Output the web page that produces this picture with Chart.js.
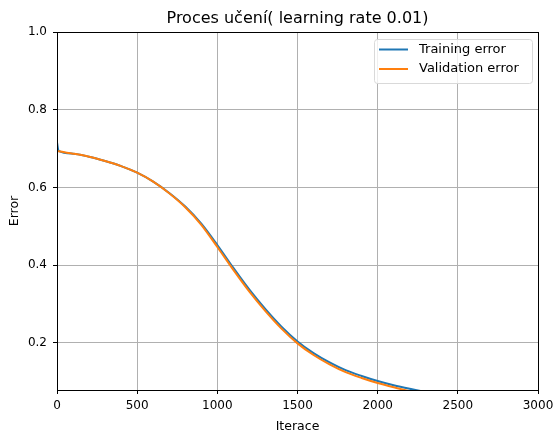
<!DOCTYPE html>
<html lang="cs">
<head>
<meta charset="UTF-8">
<title>Proces učení</title>
<script src="https://cdn.jsdelivr.net/npm/chart.js"></script>
<style>
    html, body { margin: 0; padding: 0; background: #fff; }
    #wrap { width: 555px; height: 435px; }
</style>
</head>
<body>
<div id="wrap"><canvas id="chart" width="555" height="435"></canvas></div>
<script>
    // iterace a chyby (trénovací / validační)
    const iterations = [0, 10, 100, 200, 300, 400, 500, 600, 700, 800, 900, 1000, 1100, 1200,
        1300, 1400, 1500, 1600, 1700, 1800, 1900, 2000, 2100, 2200, 2300, 2400];
    const trainingError = [0.716, 0.694, 0.687, 0.679, 0.668, 0.655, 0.638, 0.615, 0.586, 0.551, 0.507,
        0.452, 0.393, 0.337, 0.287, 0.242, 0.204, 0.174, 0.150, 0.130, 0.115, 0.102, 0.091, 0.082, 0.074, 0.068];
    const validationError = [0.694, 0.693, 0.687, 0.679, 0.668, 0.655, 0.638, 0.615, 0.585, 0.549, 0.504,
        0.447, 0.388, 0.332, 0.282, 0.237, 0.199, 0.169, 0.145, 0.125, 0.110, 0.097, 0.086, 0.076, 0.069, 0.063];
    const xTicks = [0, 500, 1000, 1500, 2000, 2500, 3000];
    const yTicks = [0.2, 0.4, 0.6, 0.8, 1.0];
    const chartTitle = 'Proces učení( learning rate 0.01)';

    const FONT = 'DejaVu Sans';

    const toPoints = (ys) => ys.map((y, i) => ({ x: iterations[i], y: y }));

    // titulek nad osami, ramecek kolem grafu + legenda v pravem hornim rohu
    const framePlugin = {
        id: 'frame',
        afterDatasetsDraw(chart) {
            const a = chart.chartArea;
            const ctx = chart.ctx;
            ctx.save();
            ctx.strokeStyle = '#000';
            ctx.lineWidth = 1;
            ctx.strokeRect(Math.round(a.left) + 0.5, Math.round(a.top) + 0.5,
                Math.round(a.right - a.left), Math.round(a.bottom - a.top));

            // titulek vycentrovany na oblast grafu
            ctx.font = '16px "' + FONT + '"';
            ctx.fillStyle = '#000';
            ctx.textAlign = 'center';
            ctx.textBaseline = 'middle';
            ctx.fillText(chartTitle, (a.left + a.right) / 2, a.top - 13.5);

            // legenda
            const x0 = a.right - 164, y0 = a.top + 7, w = 158, h = 44;
            ctx.beginPath();
            ctx.roundRect(x0 + 0.5, y0 + 0.5, w, h, 3);
            ctx.fillStyle = 'rgba(255,255,255,0.8)';
            ctx.fill();
            ctx.strokeStyle = '#d9d9d9';
            ctx.stroke();

            ctx.font = '13px "' + FONT + '"';
            ctx.textBaseline = 'middle';
            ctx.textAlign = 'left';
            chart.data.datasets.forEach((ds, i) => {
                const ly = y0 + 10.5 + i * 19.5;
                ctx.beginPath();
                ctx.moveTo(x0 + 5, ly);
                ctx.lineTo(x0 + 34, ly);
                ctx.strokeStyle = ds.borderColor;
                ctx.lineWidth = 2;
                ctx.stroke();
                ctx.fillStyle = '#000';
                ctx.fillText(ds.label, x0 + 45, ly);
            });
            ctx.restore();
        }
    };

    const ctx = document.getElementById('chart').getContext('2d');
    const chart = new Chart(ctx, {
        type: 'line',
        data: {
            datasets: [
                {
                    label: 'Training error',
                    data: toPoints(trainingError),
                    borderColor: '#1f77b4',
                    borderWidth: 2,
                    pointRadius: 0,
                    cubicInterpolationMode: 'monotone',
                    order: 1
                },
                {
                    label: 'Validation error',
                    data: toPoints(validationError),
                    borderColor: '#ff7f0e',
                    borderWidth: 2,
                    pointRadius: 0,
                    cubicInterpolationMode: 'monotone',
                    order: 0
                }
            ]
        },
        options: {
            responsive: false,
            animation: false,
            layout: { padding: { left: 0, right: 17, top: 32, bottom: 0 } },
            plugins: {
                legend: { display: false },
                tooltip: { enabled: false },
                title: { display: false }
            },
            scales: {
                x: {
                    type: 'linear',
                    min: 0,
                    max: 3000,
                    afterBuildTicks: (s) => { s.ticks = xTicks.map(v => ({ value: v })); },
                    afterFit: (s) => {
                        s.height = 45;
                        // okraj drzi layout.padding, ne sirka popisku
                        s.paddingLeft = 0;
                        s.paddingRight = 0;
                    },
                    ticks: {
                        color: '#000',
                        font: { family: FONT, size: 12 },
                        padding: 5,
                        maxRotation: 0,
                        callback: (v) => String(v)
                    },
                    grid: { color: '#b0b0b0', lineWidth: 1, tickLength: 4, tickColor: '#000' },
                    border: { display: false },
                    title: {
                        display: true,
                        text: 'Iterace',
                        color: '#000',
                        font: { family: FONT, size: 12.5 },
                        padding: { top: 0, bottom: 1 }
                    }
                },
                y: {
                    type: 'linear',
                    min: 0.079,
                    max: 1.0,
                    afterBuildTicks: (s) => { s.ticks = yTicks.map(v => ({ value: v })); },
                    afterFit: (s) => {
                        s.width = 57;
                        s.paddingTop = 0;
                        s.paddingBottom = 0;
                    },
                    ticks: {
                        color: '#000',
                        font: { family: FONT, size: 12 },
                        padding: 6,
                        callback: (v) => v.toFixed(1)
                    },
                    grid: { color: '#b0b0b0', lineWidth: 1, tickLength: 4, tickColor: '#000' },
                    border: { display: false },
                    title: {
                        display: true,
                        text: 'Error',
                        color: '#000',
                        font: { family: FONT, size: 12.5 },
                        padding: { top: 7, bottom: 0 }
                    }
                }
            }
        },
        plugins: [framePlugin]
    });
</script>
</body>
</html>
